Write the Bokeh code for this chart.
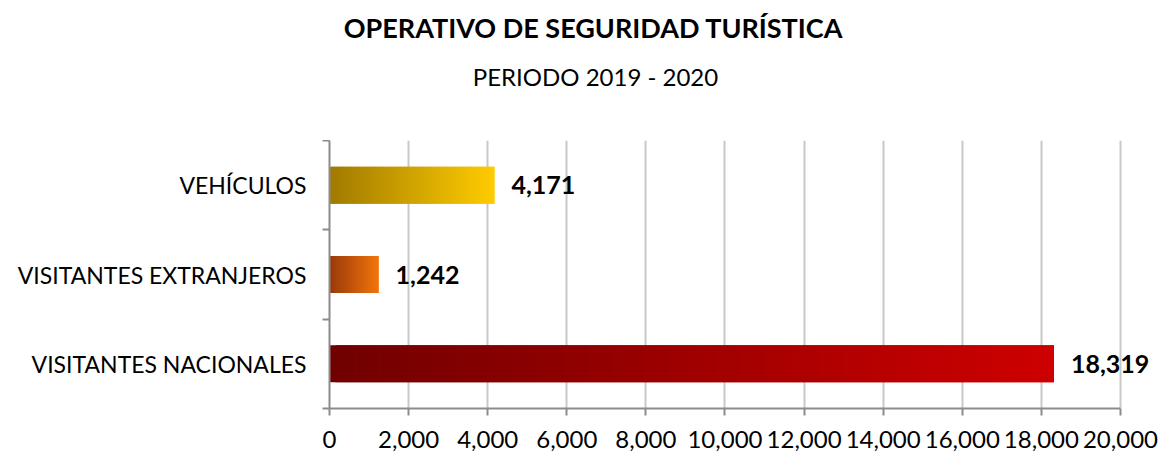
from bokeh.plotting import figure
from bokeh.layouts import column
from bokeh.models import (Range1d, FixedTicker, NumeralTickFormatter,
                          LabelSet, ColumnDataSource)
from bokeh.core.properties import value
from bokeh.embed import file_html
from bokeh.resources import INLINE

# Data (bottom to top)
categories = ["VISITANTES NACIONALES", "VISITANTES EXTRANJEROS", "VEHÍCULOS"]
values = [18319, 1242, 4171]
value_labels = ["18,319", "1,242", "4,171"]
x_ticks = [0, 2000, 4000, 6000, 8000, 10000, 12000, 14000, 16000, 18000, 20000]
x_max = 20000

title_text = "OPERATIVO DE SEGURIDAD TURÍSTICA"
subtitle_text = "PERIODO 2019 - 2020"

# Gradient end colours per bar (left, right)
gradients = [
    ((112, 0, 0), (206, 0, 0)),
    ((150, 50, 0), (242, 112, 0)),
    ((160, 122, 0), (255, 204, 0)),
]

FONT = "Lato"
AXIS_GREY = "#8c8c8c"
W = 1164
HEAD_H = 140
FRAME_LEFT = 329

# Heading strip: a bare figure whose ranges are in page pixels (its frame is
# aligned with the chart frame below, which starts at FRAME_LEFT)
head = figure(width=W, height=HEAD_H, output_backend="svg",
              toolbar_location=None, title=None,
              x_range=Range1d(FRAME_LEFT, W), y_range=Range1d(0, HEAD_H),
              x_axis_location=None, y_axis_location=None,
              min_border=0, outline_line_color=None,
              background_fill_color="white", border_fill_color="white")
head.xgrid.visible = False
head.ygrid.visible = False
head.text(x=[593], y=[HEAD_H - 27], text=[title_text], text_align="center",
          text_baseline="middle", text_font=value(FONT),
          text_font_style="bold", text_font_size="27px", text_color="black")
head.text(x=[595], y=[HEAD_H - 76], text=[subtitle_text], text_align="center",
          text_baseline="middle", text_font=value(FONT),
          text_font_size="24px", text_color="black")

# Chart: the frame runs to the right edge of the canvas so the value labels
# are not cut; the axis itself is bounded at x_max.
p = figure(width=W, height=454 - HEAD_H, output_backend="svg",
           toolbar_location=None, title=None,
           x_range=Range1d(0, 21113), y_range=Range1d(0, 3),
           min_border_left=FRAME_LEFT, min_border_right=0,
           min_border_top=0, min_border_bottom=46,
           outline_line_color=None, background_fill_color="white",
           border_fill_color="white")


def mix(c0, c1, t):
    r, g, b = (round(a + (bb - a) * t) for a, bb in zip(c0, c1))
    return f"#{r:02x}{g:02x}{b:02x}"


# Bars drawn as overlapping thin slices for a horizontal colour gradient
BAR_H = 0.415
N = 120
lefts, rights, ys, cols = [], [], [], []
for i, (v, (c0, c1)) in enumerate(zip(values, gradients)):
    for k in range(N):
        lefts.append(v * k / N)
        rights.append(min(v, v * (k + 2) / N))
        ys.append(i + 0.5)
        cols.append(mix(c0, c1, (k + 0.5) / N))
p.hbar(y=ys, left=lefts, right=rights, height=BAR_H, fill_color=cols,
       line_color=None)

# Value labels
src = ColumnDataSource(dict(x=values, y=[i + 0.5 for i in range(len(values))],
                            text=value_labels))
p.add_layout(LabelSet(x="x", y="y", text="text", source=src, x_offset=17,
                      text_baseline="middle", text_align="left",
                      text_font=value(FONT), text_font_style="bold",
                      text_font_size="25px", text_color="black"))

# X axis
ticker = FixedTicker(ticks=x_ticks)
xa = p.xaxis[0]
xa.ticker = ticker
xa.bounds = (0, x_max)
xa.formatter = NumeralTickFormatter(format="0,0")
xa.axis_line_color = AXIS_GREY
xa.axis_line_width = 2
xa.major_tick_line_color = AXIS_GREY
xa.major_tick_line_width = 2
xa.major_tick_out = 7
xa.major_tick_in = 0
xa.minor_tick_line_color = None
xa.major_label_text_font = FONT
xa.major_label_text_font_size = "24px"
xa.major_label_text_color = "black"
xa.major_label_standoff = 15

# Y axis: labels centred on bars, ticks on the category boundaries
ya = p.yaxis[0]
ya.ticker = FixedTicker(ticks=[0.5, 1.5, 2.5], minor_ticks=[0, 1, 2, 3])
ya.major_label_overrides = {i + 0.5: c for i, c in enumerate(categories)}
ya.axis_line_color = AXIS_GREY
ya.axis_line_width = 2
ya.major_tick_line_color = None
ya.minor_tick_line_color = AXIS_GREY
ya.minor_tick_line_width = 2
ya.minor_tick_out = 7
ya.minor_tick_in = 0
ya.major_label_text_font = FONT
ya.major_label_text_font_size = "23px"
ya.major_label_text_color = "black"
ya.major_label_standoff = 16

p.xgrid.ticker = ticker
p.xgrid.grid_line_color = "#c8c8c8"
p.xgrid.grid_line_width = 2
p.ygrid.grid_line_color = None

layout = column(head, p, spacing=0)
open("out.html", "w").write(file_html(layout, INLINE))
